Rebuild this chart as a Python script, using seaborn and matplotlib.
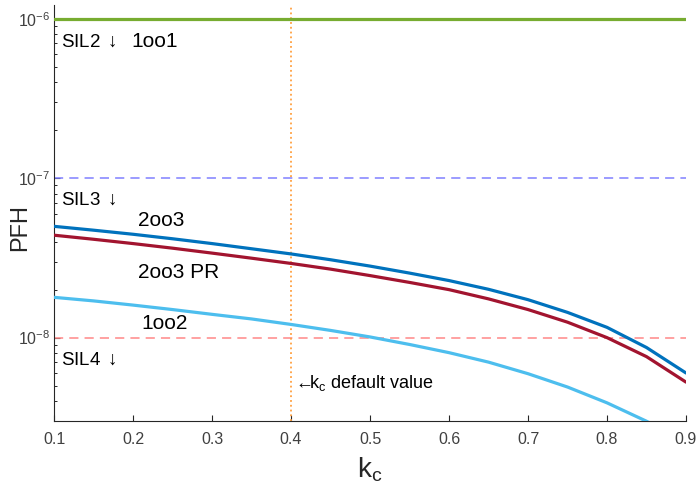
"""PFH of the voting architectures against the common cause factor k_c."""
import matplotlib.pyplot as plt
import pandas as pd
import seaborn as sns
from matplotlib.ticker import LogLocator, NullFormatter

# valores
kc = [0.10, 0.15, 0.20, 0.25, 0.30, 0.35, 0.40, 0.45, 0.50,
      0.55, 0.60, 0.65, 0.70, 0.75, 0.80, 0.85, 0.90]
pfh_1oo1 = [1.0e-6] * len(kc)
pfh_2oo3 = [4.99e-8, 4.72e-8, 4.45e-8, 4.17e-8, 3.89e-8, 3.61e-8, 3.35e-8, 3.08e-8, 2.81e-8,
            2.54e-8, 2.28e-8, 2.01e-8, 1.73e-8, 1.44e-8, 1.16e-8, 8.67e-9, 6.0e-9]
pfh_2oo3_pr = [4.39e-8, 4.14e-8, 3.89e-8, 3.64e-8, 3.39e-8, 3.15e-8, 2.92e-8, 2.69e-8, 2.45e-8,
               2.22e-8, 2.00e-8, 1.75e-8, 1.50e-8, 1.25e-8, 1.00e-8, 7.6e-9, 5.26e-9]
pfh_1oo2 = [1.79e-8, 1.70e-8, 1.60e-8, 1.50e-8, 1.40e-8, 1.31e-8, 1.21e-8, 1.11e-8, 1.01e-8,
            9.06e-9, 8.05e-9, 7.02e-9, 5.94e-9, 4.9e-9, 3.9e-9, 2.99e-9, 2.2e-9]

sil_limites = [1e-7, 1e-8]
kc_padrao = 0.4

cores = {
    "1oo1": "#77AC30",
    "2oo3": "#0072BD",
    "2oo3 PR": "#A2142F",
    "1oo2": "#4DBEEE",
}

df = pd.DataFrame({
    "kc": kc * 4,
    "PFH": pfh_1oo1 + pfh_2oo3 + pfh_2oo3_pr + pfh_1oo2,
    "arq": ["1oo1"] * len(kc) + ["2oo3"] * len(kc) + ["2oo3 PR"] * len(kc) + ["1oo2"] * len(kc),
})

sns.set_style("white")
plt.rcParams["font.family"] = ["Liberation Sans", "DejaVu Sans"]
plt.rcParams["mathtext.default"] = "regular"
plt.rcParams["mathtext.fontset"] = "stix"

cinza = "#262626"
fig = plt.figure(figsize=(6.98, 4.95), dpi=100)
ax = fig.add_axes([0.0774, 0.1495, 0.9054, 0.8404])

ax.axhline(sil_limites[0], color="#8080FF", lw=1.1, dashes=(6, 4), zorder=1)
ax.axhline(sil_limites[1], color="#FF8888", lw=1.1, dashes=(6, 4), zorder=1)
ax.axvline(kc_padrao, color="#FFA040", lw=1.3, ls=":", zorder=1)

sns.lineplot(data=df, x="kc", y="PFH", hue="arq", palette=cores, lw=2.3,
             legend=False, ax=ax, zorder=3)

ax.set_yscale("log")
ax.set_xlim(0.1, 0.9)
ax.set_ylim(3e-9, 1.22e-6)
ax.set_xticks([0.1, 0.2, 0.3, 0.4, 0.5, 0.6, 0.7, 0.8, 0.9])
ax.set_xticklabels(["0.1", "0.2", "0.3", "0.4", "0.5", "0.6", "0.7", "0.8", "0.9"])
ax.yaxis.set_major_locator(LogLocator(base=10))
ax.yaxis.set_minor_locator(LogLocator(base=10, subs=range(2, 10)))
ax.yaxis.set_minor_formatter(NullFormatter())

ax.tick_params(axis="both", which="both", bottom=True, left=True)
ax.tick_params(axis="both", which="major", direction="in", length=4, width=0.8,
               colors=cinza, labelsize=11.5, labelcolor="#404040")
ax.tick_params(axis="y", which="minor", direction="in", length=2.5, width=0.7, colors=cinza)
ax.tick_params(axis="x", pad=8)
ax.tick_params(axis="y", pad=3)

for lado in ["top", "right"]:
    ax.spines[lado].set_visible(False)
for lado in ["left", "bottom"]:
    ax.spines[lado].set_color(cinza)
    ax.spines[lado].set_linewidth(0.8)

ax.set_xlabel("k$_\\mathregular{c}$", fontsize=20, color=cinza, labelpad=6)
ax.set_ylabel("PFH", fontsize=17, color=cinza)
ax.yaxis.set_label_coords(-0.036, 0.465)

txt = dict(color="black", va="center", ha="left")
ax.text(0.109, 10 ** -6.145, "SIL2 $\\downarrow$", fontsize=13.5, **txt)
ax.text(0.198, 10 ** -6.145, "1oo1", fontsize=15, **txt)
ax.text(0.109, 10 ** -7.14, "SIL3 $\\downarrow$", fontsize=13.5, **txt)
ax.text(0.206, 10 ** -7.266, "2oo3", fontsize=15, **txt)
ax.text(0.206, 10 ** -7.591, "2oo3 PR", fontsize=15, **txt)
ax.text(0.211, 10 ** -7.91, "1oo2", fontsize=15, **txt)
ax.text(0.109, 10 ** -8.142, "SIL4 $\\downarrow$", fontsize=13.5, **txt)
ax.text(0.4025, 10 ** -8.283, "$\\leftarrow\\!\\!\\!$k$_\\mathregular{c}$ default value", fontsize=13, **txt)

fig.savefig("out.png", dpi=100)
plt.close(fig)
